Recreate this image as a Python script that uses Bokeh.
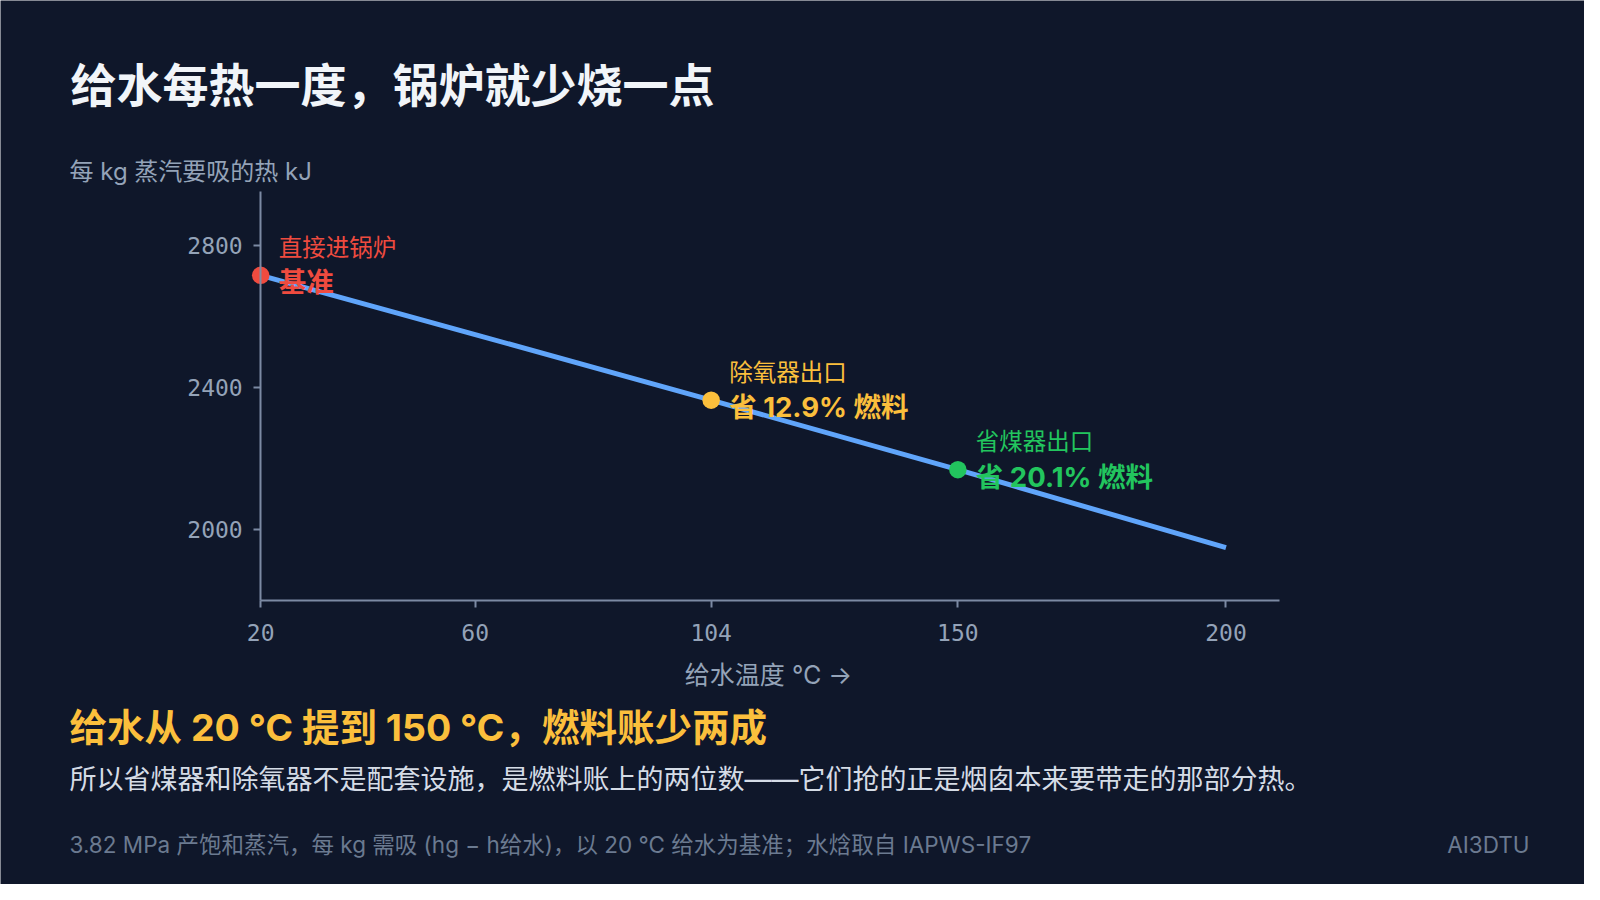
from bokeh.plotting import figure
from bokeh.models import ColumnDataSource, FixedTicker, Label, LinearAxis
from bokeh.core.properties import value
from bokeh.embed import file_html
from bokeh.resources import INLINE

# data
temps = [20, 60, 104, 150, 200]           # feed water temperature, C
heat = [2717, 2550, 2365, 2169, 1949]     # kJ per kg steam

point_temp = [20, 104, 150]
point_heat = [2717, 2365, 2169]
point_name = ["直接进锅炉", "除氧器出口", "省煤器出口"]
point_note = ["基准", "省 12.9% 燃料", "省 20.1% 燃料"]
point_color = ["#ef4b3f", "#fbbf3c", "#22c55e"]

x_ticks = [20, 60, 104, 150, 200]
y_ticks = [2000, 2400, 2800]

BG = "#0f172a"
AXIS = "#7c8aa3"
MUTED = "#94a3b8"
FONT = "Inter, 'Noto Sans CJK SC'"

# the frame fills the whole canvas; the axes sit at fixed spots inside it,
# so the texts around the chart are not clipped away
p = figure(
    width=1584,
    height=884,
    x_range=(-28.52, 266.85),
    y_range=(999.1, 3492.1),
    x_axis_location=None,
    y_axis_location=None,
    output_backend="svg",
    toolbar_location=None,
    min_border=0,
)

p.background_fill_color = BG
p.border_fill_color = BG
p.outline_line_color = None
p.grid.grid_line_color = None

yax = LinearAxis(fixed_location=20, bounds=(1800, 2954), ticker=FixedTicker(ticks=y_ticks))
xax = LinearAxis(fixed_location=1800, bounds=(20, 210), ticker=FixedTicker(ticks=x_ticks))
for ax in (xax, yax):
    ax.axis_line_color = AXIS
    ax.axis_line_width = 2
    ax.major_tick_line_color = AXIS
    ax.major_tick_line_width = 2
    ax.major_tick_out = 7
    ax.major_tick_in = 0
    ax.minor_tick_line_color = None
    ax.major_label_text_color = MUTED
    ax.major_label_text_font = "DejaVu Sans Mono"
    ax.major_label_text_font_size = "23px"
xax.major_label_standoff = 16
yax.major_label_standoff = 11
p.add_layout(yax, "left")
p.add_layout(xax, "below")

# the curve and the marked points
p.line(temps, heat, line_color="#60a5fa", line_width=5)

pts = ColumnDataSource(dict(x=point_temp, y=point_heat, name=point_name,
                            note=point_note, color=point_color))
p.scatter("x", "y", source=pts, size=17.5, fill_color="color", line_color=None)
p.text("x", "y", text="name", source=pts, x_offset=18, y_offset=-28,
       text_color="color", text_font=value(FONT), text_font_size="23.5px",
       text_baseline="middle")
p.text("x", "y", text="note", source=pts, x_offset=18, y_offset=7,
       text_color="color", text_font=value(FONT), text_font_size="27.5px",
       text_font_style="bold", text_baseline="middle")

# texts around the chart, in screen pixels
def label(x, y, text, size, color, bold=False, align="left"):
    p.add_layout(Label(x=x, y=y, x_units="screen", y_units="screen", text=text,
                       text_font=FONT, text_font_size=size, text_color=color,
                       text_font_style="bold" if bold else "normal",
                       text_align=align, text_baseline="middle"))

label(70, 799.6, "给水每热一度，锅炉就少烧一点", "46px", "#f1f5f9", bold=True)
label(69, 713, "每 kg 蒸汽要吸的热 kJ", "24px", MUTED)
label(768, 209.5, "给水温度 ℃ →", "25px", MUTED, align="center")
label(69, 156.8, "给水从 20 ℃ 提到 150 ℃，燃料账少两成", "37.5px", "#fbbf3c", bold=True)
label(69, 105, "所以省煤器和除氧器不是配套设施，是燃料账上的两位数——它们抢的正是烟囱本来要带走的那部分热。",
      "27px", "#d5dce6")
label(69, 40, "3.82 MPa 产饱和蒸汽，每 kg 需吸 (hg − h给水)，以 20 ℃ 给水为基准；水焓取自 IAPWS-IF97",
      "22.5px", "#6b7a90")
label(1529, 40, "AI3DTU", "22.5px", "#6b7a90", align="right")

html = file_html(p, INLINE, title="给水每热一度")
html = html.replace("<body>", '<body style="background:#0f172a;">', 1)
open("out.html", "w").write(html)
